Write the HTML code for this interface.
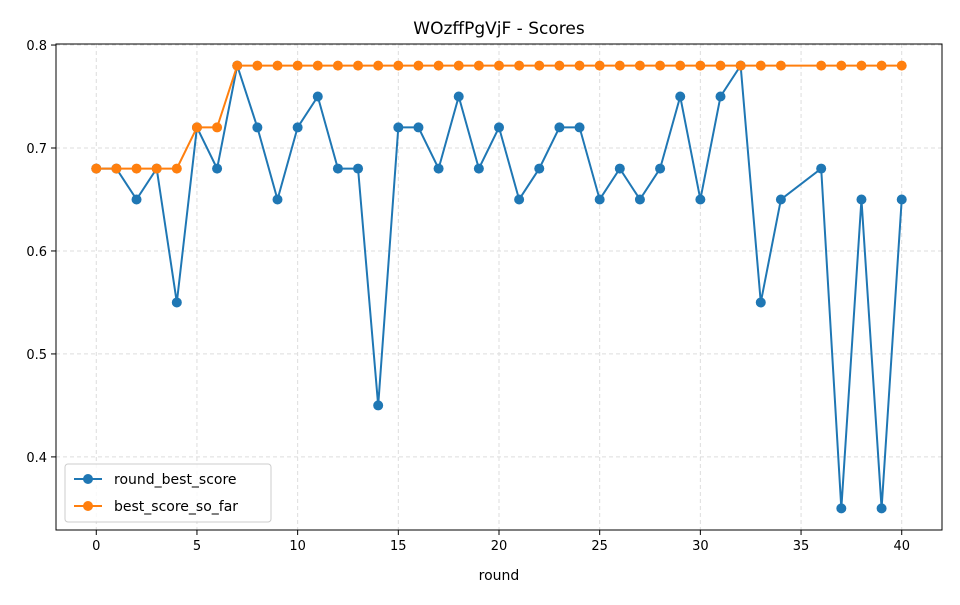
<!DOCTYPE html>
<html><head><meta charset="utf-8"><style>
body{margin:0;background:#fff;font-family:"Liberation Sans","DejaVu Sans",sans-serif;}
</style></head><body>
<svg id="chart" width="960" height="600" xmlns="http://www.w3.org/2000/svg" font-family="DejaVu Sans, Liberation Sans, sans-serif">
<rect width="960" height="600" fill="#fff"/>
<text x="499" y="34" text-anchor="middle" font-size="17">WOzffPgVjF - Scores</text>
<g id="grid"></g>
<g id="axes"></g>
<g id="series"></g>
<rect x="56" y="44" width="886" height="486" fill="none" stroke="#000" stroke-width="1"/>
<text x="499" y="580" text-anchor="middle" font-size="14">round</text>
<g>
<rect x="65" y="464" width="206" height="58" rx="3" fill="#fff" fill-opacity="0.8" stroke="#ccc"/>
<g>
<line x1="74" y1="479" x2="102" y2="479" stroke="#1f77b4" stroke-width="2"/><circle cx="88" cy="479" r="5" fill="#1f77b4"/>
<text x="114" y="484" font-size="14">round_best_score</text></g>
<g>
<line x1="74" y1="506" x2="102" y2="506" stroke="#ff7f0e" stroke-width="2"/><circle cx="88" cy="506" r="5" fill="#ff7f0e"/>
<text x="114" y="511" font-size="14">best_score_so_far</text></g>
</g>
</svg>
<script>
const rounds=[0,1,2,3,4,5,6,7,8,9,10,11,12,13,14,15,16,17,18,19,20,21,22,23,24,25,26,27,28,29,30,31,32,33,34,36,37,38,39,40];
const roundBest=[0.68,0.68,0.65,0.68,0.55,0.72,0.68,0.78,0.72,0.65,0.72,0.75,0.68,0.68,0.45,0.72,0.72,0.68,0.75,0.68,0.72,0.65,0.68,0.72,0.72,0.65,0.68,0.65,0.68,0.75,0.65,0.75,0.78,0.55,0.65,0.68,0.35,0.65,0.35,0.65];
const bestSoFar=[0.68,0.68,0.68,0.68,0.68,0.72,0.72,0.78,0.78,0.78,0.78,0.78,0.78,0.78,0.78,0.78,0.78,0.78,0.78,0.78,0.78,0.78,0.78,0.78,0.78,0.78,0.78,0.78,0.78,0.78,0.78,0.78,0.78,0.78,0.78,0.78,0.78,0.78,0.78,0.78];
const xTicks=[0,5,10,15,20,25,30,35,40];
const yTicks=[0.4,0.5,0.6,0.7,0.8];
const NS="http://www.w3.org/2000/svg";
const L=56,R=942,T=44,B=530,xMin=-2,xMax=42,yMin=0.329,yMax=0.801;
const xs=v=>L+(v-xMin)/(xMax-xMin)*(R-L);
const ys=v=>B-(v-yMin)/(yMax-yMin)*(B-T);
function mk(tag,attrs,parent){const e=document.createElementNS(NS,tag);for(const k in attrs)e.setAttribute(k,attrs[k]);parent.appendChild(e);return e;}
const grid=document.getElementById('grid'),axes=document.getElementById('axes'),series=document.getElementById('series');
xTicks.forEach(t=>{const x=xs(t);
const g=mk('line',{x1:x,x2:x,y1:T,y2:B,stroke:'#ddd','stroke-dasharray':'4,3'},grid);


mk('line',{x1:x,x2:x,y1:B,y2:B+5,stroke:'#000'},axes);
const tx=mk('text',{x:x,y:B+20,'text-anchor':'middle','font-size':'13'},axes);tx.textContent=t;

});
yTicks.forEach(t=>{const y=ys(t);
const g=mk('line',{x1:L,x2:R,y1:y,y2:y,stroke:'#ddd','stroke-dasharray':'4,3'},grid);


mk('line',{x1:L-5,x2:L,y1:y,y2:y,stroke:'#000'},axes);
const tx=mk('text',{x:L-9,y:y+5,'text-anchor':'end','font-size':'13'},axes);tx.textContent=t.toFixed(1);

});
function draw(vals,color,name){
const pts=rounds.map((r,i)=>xs(r)+','+ys(vals[i])).join(' ');
const pl=mk('polyline',{points:pts,fill:'none',stroke:color,'stroke-width':2},series);


rounds.forEach((r,i)=>{const c=mk('circle',{cx:xs(r),cy:ys(vals[i]),r:5,fill:color},series);

});}
draw(roundBest,'#1f77b4','round-best-score');
draw(bestSoFar,'#ff7f0e','best-score-so-far');
</script>
</body></html>
